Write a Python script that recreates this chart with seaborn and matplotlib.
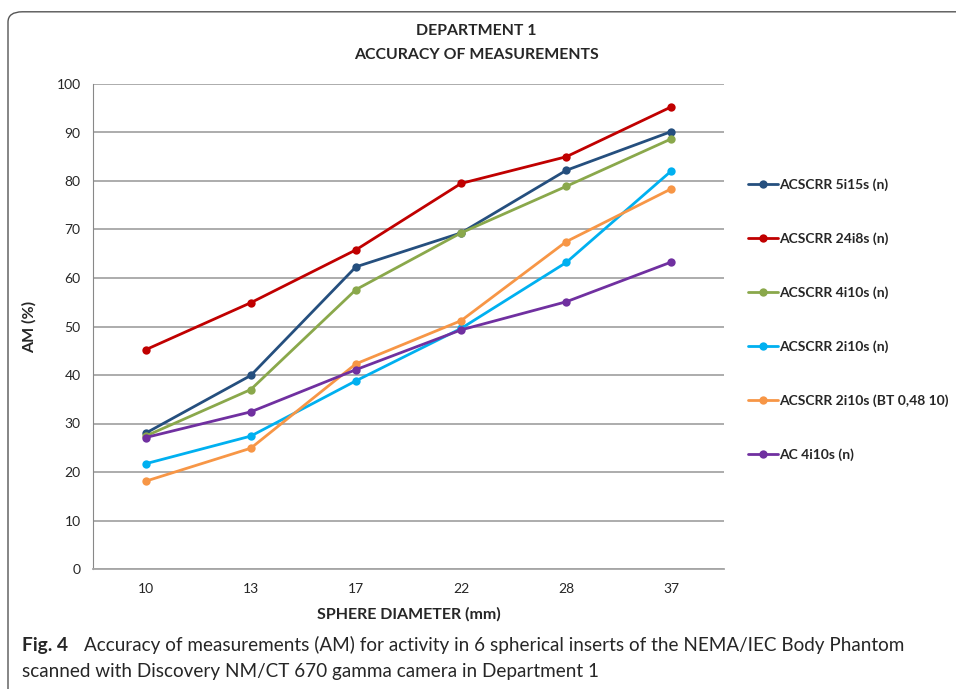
import numpy as np
import pandas as pd
import seaborn as sns
import matplotlib.pyplot as plt
from matplotlib.patches import FancyBboxPatch

# data
diameters = ["10", "13", "17", "22", "28", "37"]
series_names = ["ACSCRR 5i15s (n)", "ACSCRR 24i8s (n)", "ACSCRR 4i10s (n)",
                "ACSCRR 2i10s (n)", "ACSCRR 2i10s (BT 0,48 10)", "AC 4i10s (n)"]
am_5i15s = [28.0, 39.9, 62.3, 69.3, 82.2, 90.2]
am_24i8s = [45.2, 54.9, 65.8, 79.5, 85.0, 95.3]
am_4i10s = [27.4, 37.0, 57.6, 69.3, 78.9, 88.7]
am_2i10s = [21.7, 27.4, 38.8, 49.6, 63.2, 82.1]
am_2i10s_bt = [18.1, 24.9, 42.3, 51.2, 67.5, 78.4]
am_ac_4i10s = [27.1, 32.4, 41.1, 49.3, 55.1, 63.3]
colors = ["#254F7E", "#C00000", "#8AA84B", "#00B0F0", "#F79646", "#7030A0"]

all_vals = [am_5i15s, am_24i8s, am_4i10s, am_2i10s, am_2i10s_bt, am_ac_4i10s]
rows = []
for name, vals in zip(series_names, all_vals):
    for d, v in zip(diameters, vals):
        rows.append({"diameter": d, "am": v, "series": name})
df = pd.DataFrame(rows)

sns.set_style("white")
plt.rcParams['font.family'] = ['Lato', 'DejaVu Sans']

fig = plt.figure(figsize=(9.56, 6.89), dpi=100)
ax = fig.add_axes([93 / 956, 120 / 689, 631 / 956, 485 / 689])

# rounded frame around the figure panel
frame = FancyBboxPatch((8 / 956, -0.2), 1.2, (677 + 138) / 689,
                       boxstyle="round,pad=0,rounding_size=0.015",
                       transform=fig.transFigure, fill=False,
                       edgecolor="#555555", linewidth=1.0, clip_on=False)
fig.patches.append(frame)

sns.lineplot(data=df, x="diameter", y="am", hue="series", palette=colors,
             hue_order=series_names, marker="o", markersize=6,
             markeredgewidth=0, linewidth=2.0, sort=False, ax=ax)

ax.set_xlim(-0.5, 5.5)
ax.set_ylim(0, 100)
ax.set_yticks(np.arange(0, 101, 10))
ax.grid(axis="y", color="#A6A6A6", linewidth=1.3)
ax.set_axisbelow(True)
for s in ["top", "right"]:
    ax.spines[s].set_visible(False)
ax.spines["left"].set_color("#888888")
ax.spines["bottom"].set_color("#A6A6A6")
ax.spines["bottom"].set_linewidth(1.3)
ax.tick_params(axis="y", length=5, color="#A6A6A6", width=1.3, labelsize=10, pad=4)
ax.tick_params(axis="x", length=0, labelsize=10, pad=10)

ax.set_xlabel("SPHERE DIAMETER (mm)", fontsize=11.5, fontweight="bold", labelpad=9)
ax.set_ylabel("AM (%)", fontsize=11.5, fontweight="bold", labelpad=14)

fig.text(476 / 956, 1 - 31 / 689, "DEPARTMENT 1", ha="center", va="center",
         fontsize=11.4, fontweight="bold")
fig.text(476 / 956, 1 - 55 / 689, "ACCURACY OF MEASUREMENTS", ha="center",
         va="center", fontsize=11.4, fontweight="bold")

handles, labels = ax.get_legend_handles_labels()
ax.legend(handles, labels, loc="upper left", bbox_to_anchor=(742 / 956, 1 - 173 / 689),
          bbox_transform=fig.transFigure, frameon=False, handlelength=2.2,
          handletextpad=0.1, labelspacing=2.97, borderaxespad=0,
          prop={"weight": "bold", "size": 10})

fig.text(22 / 956, 1 - 645 / 689, "Fig. 4", ha="left", va="center",
         fontsize=13.8, fontweight="bold")
fig.text(84 / 956, 1 - 645 / 689,
         "Accuracy of measurements (AM) for activity in 6 spherical inserts of the NEMA/IEC Body Phantom",
         ha="left", va="center", fontsize=13.6)
fig.text(22 / 956, 1 - 672 / 689,
         "scanned with Discovery NM/CT 670 gamma camera in Department 1",
         ha="left", va="center", fontsize=13.6)

fig.savefig("out.png", dpi=100)
